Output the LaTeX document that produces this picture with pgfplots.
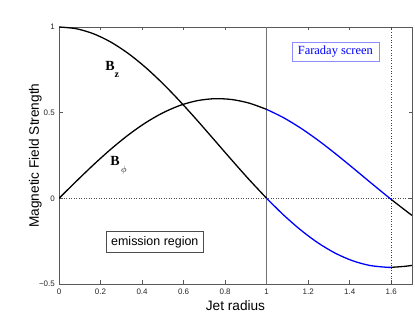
\documentclass[border=0pt]{standalone}
\usepackage{fontspec}
\setmainfont{Liberation Sans}
\newfontfamily\serif{Liberation Serif}
\usepackage{pgfplots}
\pgfplotsset{compat=1.18}
\begin{document}
\begin{tikzpicture}
\begin{axis}[
 scale only axis, width=353bp, height=257bp,
 xmin=0, xmax=1.7, ymin=-0.5, ymax=1,
 xtick={0,0.2,0.4,0.6,0.8,1,1.2,1.4,1.6},
 xticklabels={0,0.2,0.4,0.6,0.8,1,1.2,1.4,1.6},
 ytick={-0.5,0,0.5,1},
 yticklabels={−0.5,0,0.5,1},
 tick align=inside, tick pos=both,
 major tick length=3.5bp,
 axis line style={black!65, line width=0.6bp},
 every tick/.style={black!65, line width=0.6bp},
 ticklabel style={font=\fontsize{8}{9}\selectfont, text=black!85},
 xticklabel style={inner sep=0pt, anchor=north, yshift=-5bp},
 yticklabel style={inner sep=0pt, anchor=east, xshift=-4bp},
 xlabel={Jet radius}, ylabel={Magnetic Field Strength},
 label style={font=\fontsize{13.7}{15}\selectfont, inner sep=0pt},
 xlabel style={at={([yshift=-16bp]axis description cs:0.5,0)}, anchor=north},
 ylabel style={at={([xshift=-17bp]axis description cs:0,0.5)}, anchor=south},
]
\coordinate (SW) at (rel axis cs:0,0);
\coordinate (NE) at (rel axis cs:1,1);
% reference lines
\addplot[black!70, dotted, line width=0.5bp] coordinates {(0,0) (1.7,0)};
\addplot[black!55, line width=0.6bp] coordinates {(1,-0.5) (1,1)};
\addplot[black!75, dotted, line width=0.6bp] coordinates {(1.6,-0.5) (1.6,1)};
% B_z
\addplot[black, line width=1.3bp, smooth] coordinates {(0,1) (0.0832,0.9900) (0.1663,0.9604) (0.2495,0.9120) (0.3326,0.8463) (0.4158,0.7652) (0.4990,0.6711) (0.5821,0.5669) (0.6653,0.4554) (0.7484,0.3400) (0.8316,0.2239) (0.9148,0.1104) (1.0,0)};
\addplot[blue, line width=1.3bp, smooth] coordinates {(1.0,0) (1.0811,-0.0968) (1.1643,-0.1850) (1.2475,-0.2601) (1.3306,-0.3202) (1.4138,-0.3643) (1.4969,-0.3918) (1.5801,-0.4026) (1.6,-0.4027)};
\addplot[black, line width=1.3bp, smooth] coordinates {(1.6,-0.4027) (1.6633,-0.3972) (1.7,-0.3913)};
% B_phi
\addplot[black, line width=1.3bp, smooth] coordinates {(0,0) (0.0832,0.0995) (0.1663,0.1960) (0.2495,0.2867) (0.3326,0.3688) (0.4158,0.4401) (0.4990,0.4983) (0.5821,0.5420) (0.6653,0.5699) (0.7484,0.5815) (0.8316,0.5767) (0.9148,0.5560) (1.0,0.5191)};
\addplot[blue, line width=1.3bp, smooth] coordinates {(1.0,0.5191) (1.0811,0.4708) (1.1643,0.4097) (1.2475,0.3391) (1.3306,0.2613) (1.4138,0.1792) (1.4969,0.0955) (1.5801,0.0128) (1.6,-0.0064)};
\addplot[black, line width=1.3bp, smooth] coordinates {(1.6,-0.0064) (1.6633,-0.0660) (1.7,-0.0995)};
% labels
\node[draw=blue!45, text=blue, font=\serif\fontsize{12.5}{14}\selectfont, inner xsep=6bp, inner ysep=4bp, fill=white] at (axis cs:1.331,0.854) {Faraday screen};
\node[draw=black!70, font=\fontsize{12.5}{14}\selectfont, inner xsep=5bp, inner ysep=5bp, fill=white] at (axis cs:0.4614,-0.2536) {emission region};
\node[anchor=base west, inner sep=0pt, font=\serif\bfseries\fontsize{14}{16}\selectfont] at (axis cs:0.222,0.749) {B\raisebox{-7bp}{\fontsize{10}{12}\selectfont z}};
\node[anchor=base west, inner sep=0pt, font=\serif\bfseries\fontsize{14}{16}\selectfont] at (axis cs:0.246,0.189) {B\hspace{1.5bp}\raisebox{-7bp}{\fontsize{9}{11}\selectfont\mdseries$\phi$}};
\end{axis}
\pgfresetboundingbox
\path ([shift={(-59bp,-32bp)}]SW) rectangle ([shift={(3bp,27bp)}]NE);
\end{tikzpicture}
\end{document}
